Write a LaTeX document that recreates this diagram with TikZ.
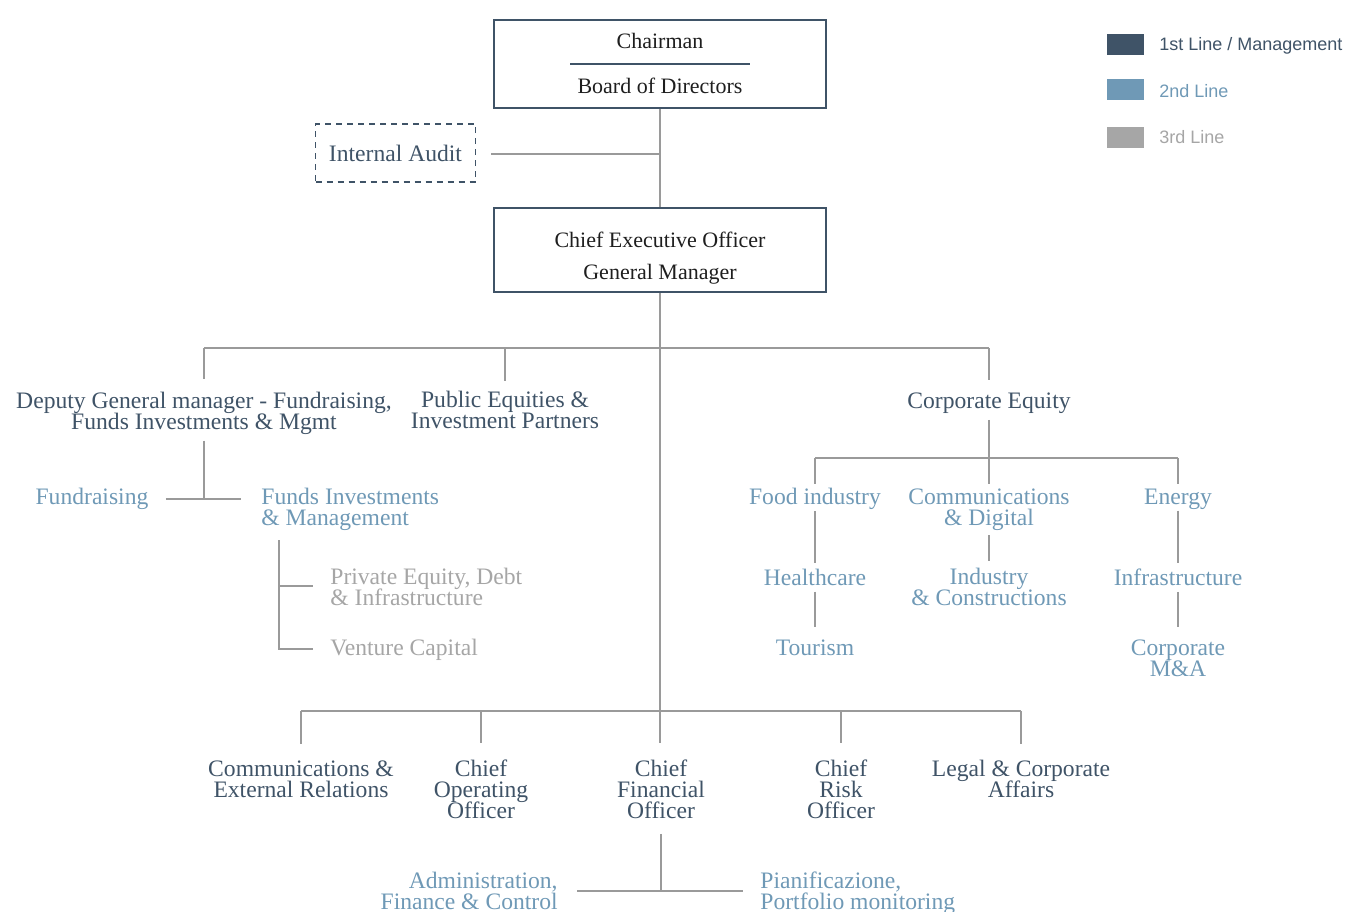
\documentclass[tikz,border=0pt]{standalone}
\usepackage{fontspec}
\setmainfont{Liberation Serif}
\newfontfamily\legendfont{Liberation Sans}
\definecolor{darkc}{HTML}{3F5367}
\definecolor{boxtxt}{HTML}{1E1E1E}
\definecolor{bluec}{HTML}{6F99B6}
\definecolor{grayc}{HTML}{A6A6A6}
\definecolor{linec}{HTML}{9A9A9A}
\lineskiplimit=-20pt\relax
\begin{document}
\begin{tikzpicture}[x=0.5pt,y=-0.5pt,
  txt/.style={inner sep=0pt, align=center, font=\fontsize{11.8}{10.5}\selectfont},
  lone/.style={txt,text=darkc},
  ltwo/.style={txt,text=bluec},
  lthree/.style={txt,text=grayc},
  conn/.style={draw=linec, line width=0.65pt},
  bigbox/.style={draw=darkc, line width=1.3pt, minimum width=166pt, inner sep=0pt},
  legbox/.style={minimum width=18.5pt, minimum height=10.5pt, inner sep=0pt},
  legtxt/.style={anchor=west, inner sep=0pt, font=\legendfont\fontsize{9}{11}\selectfont}]
\clip (0,0) rectangle (1347,911);

% legend
\node[legbox, fill=darkc] (lg1) at (1125.5,44.5) {};
\node[legbox, fill=bluec] (lg2) at (1125.5,89.5) {};
\node[legbox, fill=grayc] (lg3) at (1125.5,137.5) {};
\node[legtxt, text=darkc] (lg1t) at (1159,46) {1st Line / Management};
\node[legtxt, text=bluec] (lg2t) at (1159,91) {2nd Line};
\node[legtxt, text=grayc] (lg3t) at (1159,137) {3rd Line};

% top boxes
\node[bigbox, minimum height=44pt] (chair) at (660,64) {};
\node[txt, text=boxtxt, font=\fontsize{11}{13}\selectfont] (chairt) at (660,41) {Chairman};
\draw[darkc, line width=1pt] (570,64) -- (750,64);
\node[txt, text=boxtxt, font=\fontsize{11}{13}\selectfont] (board) at (660,86) {Board of Directors};
\node[bigbox, minimum height=42pt] (ceo) at (660,250) {};
\node[txt, text=boxtxt, font=\fontsize{11}{16}\selectfont] (ceot) at (660,258) {Chief Executive Officer\\General Manager};
\node[lone, draw=darkc, line width=0.7pt, dash pattern=on 3pt off 2.5pt, minimum width=80pt, minimum height=29pt] (audit) at (395.5,153) {Internal Audit};

% second level
\node[lone] (dep) at (204,413) {Deputy General manager - Fundraising,\\Funds Investments \& Mgmt};
\node[lone] (pub) at (505,410) {Public Equities \&\\Investment Partners};
\node[lone] (ce) at (989,403) {Corporate Equity};

\node[ltwo] (fund) at (92,499) {Fundraising};
\node[ltwo, anchor=west, align=left] (fim) at (261,509) {Funds Investments\\\& Management};
\node[lthree, anchor=west, align=left] (pe) at (330,587) {Private Equity, Debt\\\& Infrastructure};
\node[lthree, anchor=west] (vc) at (330,650) {Venture Capital};

\node[ltwo] (food) at (815,499) {Food industry};
\node[ltwo] (cd) at (989,510) {Communications\\\& Digital};
\node[ltwo] (en) at (1178,499) {Energy};
\node[ltwo] (hc) at (815,577) {Healthcare};
\node[ltwo] (ind) at (989,587) {Industry\\\& Constructions};
\node[ltwo] (inf) at (1178,577) {Infrastructure};
\node[ltwo] (tour) at (815,648) {Tourism};
\node[ltwo] (cma) at (1178,658) {Corporate\\M\&A};

% bottom level
\node[lone] (cer) at (301,779) {Communications \&\\External Relations};
\node[lone] (coo) at (481,789) {Chief\\Operating\\Officer};
\node[lone] (cfo) at (661,789) {Chief\\Financial\\Officer};
\node[lone] (cro) at (841,789) {Chief\\Risk\\Officer};
\node[lone] (leg) at (1021,779) {Legal \& Corporate\\Affairs};
\node[ltwo, anchor=east, align=right] (adm) at (558,891) {Administration,\\Finance \& Control};
\node[ltwo, anchor=west, align=left] (pia) at (760,893) {Pianificazione,\\Portfolio monitoring};

% coordinates
\coordinate (ia) at (660,154);
\coordinate (tb) at (660,348);
\coordinate (fj) at (204,499);
\coordinate (fv) at (279,540);
\coordinate (cj) at (990,458);
\coordinate (bj) at (660,711);
\coordinate (tend) at ([yshift=8pt]cfo.north);
\coordinate (cj2) at (660,891);

% connectors
\draw[conn] (chair.south) -- (ceo.north);
\draw[conn] ([xshift=7.5pt]audit.east |- ia) -- (ia);
\draw[conn] (ceo.south) -- (ceo.south |- tend);

\draw[conn] (dep.north |- tb) -- (ce.north |- tb);
\draw[conn] (dep.north |- tb) -- ([yshift=6pt]dep.north);
\draw[conn] (pub.north |- tb) -- ([yshift=5pt]pub.north);
\draw[conn] (ce.north |- tb) -- ([yshift=6pt]ce.north);

\draw[conn] ([yshift=-3pt]dep.south) -- (dep.south |- fj);
\draw[conn] ([xshift=8.5pt]fund.east |- fj) -- ([xshift=-10pt]fim.west |- fj);
\draw[conn] (fv) |- ([xshift=-8.5pt]vc.west |- 0,649);
\draw[conn] (fv |- 0,586) -- ([xshift=-8.5pt]pe.west |- 0,586);

\draw[conn] ([yshift=-3pt]ce.south) -- (ce.south |- cj);
\draw[conn] (food.north |- cj) -- (en.north |- cj);
\draw[conn] (food.north |- cj) -- ([yshift=2pt]food.north);
\draw[conn] (cd.north |- cj) -- ([yshift=2.5pt]cd.north);
\draw[conn] (en.north |- cj) -- ([yshift=2pt]en.north);
\draw[conn, shorten <=0.5pt, shorten >=2.5pt] (food.south) -- (hc.north);
\draw[conn, shorten <=3pt, shorten >=6.5pt] (hc.south) -- (tour.north);
\draw[conn, shorten <=2pt, shorten >=3.5pt] (cd.south) -- (ind.north);
\draw[conn, shorten <=0.5pt, shorten >=2.5pt] (en.south) -- (inf.north);
\draw[conn, shorten <=3pt, shorten >=6pt] (inf.south) -- (cma.north);

\draw[conn] (cer.north |- bj) -- (leg.north |- bj);
\draw[conn] (cer.north |- bj) -- ([yshift=8pt]cer.north);
\draw[conn] (coo.north |- bj) -- ([yshift=8pt]coo.north);
\draw[conn] (cro.north |- bj) -- ([yshift=8pt]cro.north);
\draw[conn] (leg.north |- bj) -- ([yshift=8pt]leg.north);

\draw[conn] ([yshift=-7.5pt]cfo.south) -- (cfo.south |- cj2);
\draw[conn] ([xshift=9.5pt]adm.east |- cj2) -- ([xshift=-8.5pt]pia.west |- cj2);
\end{tikzpicture}
\end{document}
